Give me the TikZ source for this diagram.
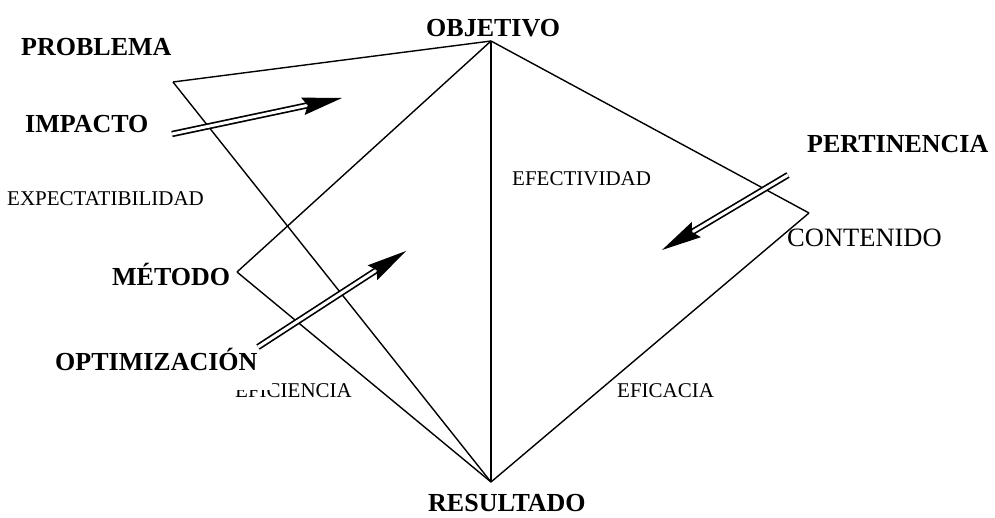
\documentclass[tikz,border=0pt]{standalone}
\usepackage{fontspec}
\setmainfont{Liberation Serif}
\usetikzlibrary{calc}
\tikzset{
  edge/.style={line width=1.4pt},
  dbl/.style={double, line width=1.7pt, double distance=3pt},
  boldlbl/.style={anchor=base west, inner sep=0pt, font=\fontsize{26}{26}\selectfont\bfseries},
  smalllbl/.style={anchor=base west, inner sep=0pt, font=\fontsize{21}{21}\selectfont},
  biglbl/.style={anchor=base west, inner sep=0pt, font=\fontsize{26.5}{26.5}\selectfont},
}
\newcommand{\dblarrow}[2]{%
  \draw[dbl] (#1) -- ($(#2)!36pt!(#1)$);
  \fill ($(#2)$) -- ($(#2)!41pt!12.5:(#1)$) -- ($(#2)!35pt!(#1)$) -- ($(#2)!41pt!-12.5:(#1)$) -- cycle;
}
\begin{document}
\begin{tikzpicture}[x=1pt,y=-1pt]
\useasboundingbox (0,0) rectangle (995,517);
% vertices
\coordinate (O) at (491,41);
\coordinate (R) at (491,482);
\coordinate (P) at (173,82);
\coordinate (M) at (237,272);
\coordinate (C) at (809,213);
% edges
\draw[edge] (P) -- (O);
\draw[edge] (P) -- (R);
\draw[edge] (M) -- (O);
\draw[edge] (M) -- (R);
\draw[edge] (C) -- (O);
\draw[edge] (C) -- (R);
\draw[edge] (O) -- (R);
% arrows
\coordinate (it) at (172,134);
\coordinate (ih) at (342,98);
\coordinate (ot) at (258,347);
\coordinate (oh) at (406,251);
\coordinate (pt) at (788,175);
\coordinate (ph) at (662,250);
\dblarrow{it}{ih}
\dblarrow{ot}{oh}
\dblarrow{pt}{ph}
% labels
\node[boldlbl] (lobj) at (426,36) {OBJETIVO};
\node[boldlbl] (lres) at (428,511) {RESULTADO};
\node[boldlbl] (lprob) at (21,55) {PROBLEMA};
\node[boldlbl] (limp) at (25,132) {IMPACTO};
\node[boldlbl] (lmet) at (112,285) {MÉTODO};
\node[boldlbl] (lopt) at (55,370) {OPTIMIZACIÓN};
\node[boldlbl] (lpert) at (807,152) {PERTINENCIA};
\node[smalllbl] (lexp) at (7,205) {EXPECTATIBILIDAD};
\node[smalllbl] (lefe) at (512,185) {EFECTIVIDAD};
\node[smalllbl] (lefi) at (235,397) {EFICIENCIA};
\node[smalllbl] (lefc) at (617,397) {EFICACIA};
\node[biglbl] (lcon) at (787,246) {CONTENIDO};
% partial mask over the top of EFICIENCIA as in the reference
\fill[white] (233,379) rectangle (272,390);
\end{tikzpicture}
\end{document}
